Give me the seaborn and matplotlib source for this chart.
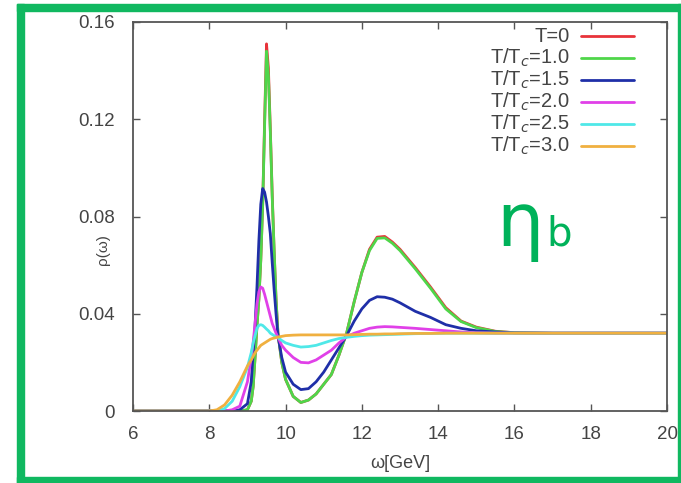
import matplotlib
matplotlib.use("Agg")
import matplotlib.pyplot as plt
from matplotlib.patches import Rectangle
import seaborn as sns
import pandas as pd

# ---------------- data ----------------
omega = [6.0, 7.0, 8.0, 8.2, 8.4, 8.6, 8.8, 9.0, 9.1, 9.15, 9.2, 9.25, 9.3, 9.35,
         9.4, 9.45, 9.5, 9.55, 9.6, 9.65, 9.7, 9.75, 9.8, 9.9, 10.0, 10.2, 10.4,
         10.6, 10.8, 11.0, 11.2, 11.4, 11.6, 11.8, 12.0, 12.2, 12.4, 12.6, 12.8,
         13.0, 13.4, 13.8, 14.2, 14.6, 15.0, 15.5, 16.0, 17.0, 18.0, 19.0, 20.0]

rho_T0 = [0, 0, 0, 0, 0, 0, 0, 0.0005, 0.004, 0.010, 0.022, 0.035, 0.046, 0.062,
          0.085, 0.119, 0.151, 0.141, 0.116, 0.089, 0.066, 0.046, 0.032, 0.020,
          0.013, 0.006, 0.0035, 0.0045, 0.007, 0.011, 0.015, 0.023, 0.032, 0.045,
          0.057, 0.0665, 0.0715, 0.0718, 0.0695, 0.0665, 0.059, 0.051, 0.0425,
          0.037, 0.0345, 0.0328, 0.0322, 0.032, 0.032, 0.032, 0.032]

rho_T10 = [0, 0, 0, 0, 0, 0, 0, 0.0005, 0.004, 0.010, 0.022, 0.035, 0.046, 0.062,
           0.085, 0.117, 0.148, 0.138, 0.115, 0.088, 0.066, 0.046, 0.032, 0.020,
           0.013, 0.006, 0.0035, 0.0045, 0.007, 0.011, 0.015, 0.023, 0.032, 0.045,
           0.057, 0.066, 0.071, 0.0712, 0.069, 0.066, 0.0585, 0.0505, 0.042,
           0.0368, 0.0343, 0.0327, 0.0322, 0.032, 0.032, 0.032, 0.032]

rho_T15 = [0, 0, 0, 0, 0, 0, 0.0005, 0.003, 0.012, 0.024, 0.035, 0.051, 0.070, 0.085,
           0.0915, 0.090, 0.086, 0.080, 0.073, 0.061, 0.050, 0.040, 0.031, 0.022,
           0.016, 0.011, 0.0088, 0.0092, 0.012, 0.016, 0.021, 0.026, 0.031, 0.037,
           0.042, 0.0455, 0.047, 0.0468, 0.046, 0.0445, 0.041, 0.0385, 0.0355,
           0.034, 0.033, 0.0325, 0.0321, 0.032, 0.032, 0.032, 0.032]

rho_T20 = [0, 0, 0, 0, 0, 0.0005, 0.002, 0.012, 0.022, 0.028, 0.036, 0.044, 0.049,
           0.051, 0.0505, 0.048, 0.045, 0.042, 0.039, 0.036, 0.034, 0.032, 0.0303,
           0.027, 0.025, 0.022, 0.020, 0.0198, 0.021, 0.023, 0.025, 0.028, 0.0305,
           0.032, 0.033, 0.034, 0.0345, 0.0347, 0.0346, 0.0344, 0.034, 0.0335,
           0.033, 0.0325, 0.0322, 0.032, 0.032, 0.032, 0.032, 0.032, 0.032]

rho_T25 = [0, 0, 0, 0, 0.001, 0.004, 0.010, 0.018, 0.024, 0.028, 0.031, 0.034,
           0.0352, 0.0355, 0.0352, 0.0345, 0.0337, 0.033, 0.032, 0.0315, 0.031,
           0.0305, 0.0302, 0.029, 0.028, 0.027, 0.0263, 0.0265, 0.027, 0.028,
           0.029, 0.0298, 0.0303, 0.0307, 0.031, 0.0312, 0.0313, 0.0314, 0.0315,
           0.0316, 0.0318, 0.0319, 0.032, 0.032, 0.032, 0.032, 0.032, 0.032,
           0.032, 0.032, 0.032]

rho_T30 = [0, 0, 0, 0.0005, 0.0025, 0.0065, 0.012, 0.0185, 0.021, 0.0225, 0.024,
           0.025, 0.026, 0.027, 0.0275, 0.028, 0.0285, 0.029, 0.0295, 0.0298,
           0.030, 0.0302, 0.0304, 0.0307, 0.031, 0.0312, 0.0313, 0.0313, 0.0313,
           0.0313, 0.0313, 0.0313, 0.0313, 0.0314, 0.0315, 0.0316, 0.0316, 0.0317,
           0.0317, 0.0318, 0.0319, 0.0319, 0.032, 0.032, 0.032, 0.032, 0.032,
           0.032, 0.032, 0.032, 0.032]

series_labels = ["T=0", "T/T$_c$=1.0", "T/T$_c$=1.5", "T/T$_c$=2.0",
                 "T/T$_c$=2.5", "T/T$_c$=3.0"]
series_values = [rho_T0, rho_T10, rho_T15, rho_T20, rho_T25, rho_T30]
series_colors = ["#e8333a", "#4fd64a", "#1f2fa8", "#e040e8", "#4fe8e8", "#f0b040"]

x_ticks = [6, 8, 10, 12, 14, 16, 18, 20]
y_ticks = [0, 0.04, 0.08, 0.12, 0.16]
y_tick_labels = ["0", "0.04", "0.08", "0.12", "0.16"]

# ---------------- figure ----------------
sns.set_theme(style="white")
plt.rcParams["font.family"] = ["Liberation Sans", "DejaVu Sans"]

W, H = 681, 483
fig = plt.figure(figsize=(W / 100, H / 100), dpi=100)
ax = fig.add_axes([133 / W, 1 - 411 / H, (667 - 133) / W, (411 - 22) / H])

frames = []
for lab, vals in zip(series_labels, series_values):
    frames.append(pd.DataFrame({"omega": omega, "rho": vals, "series": lab}))
df = pd.concat(frames, ignore_index=True)

sns.lineplot(data=df, x="omega", y="rho", hue="series", hue_order=series_labels,
             palette=series_colors, linewidth=2.0, ax=ax, legend=False, sort=False)

ax.set_xlim(6, 20)
ax.set_ylim(0, 0.16)
ax.set_xticks(x_ticks)
ax.set_xticklabels([str(t) for t in x_ticks])
ax.set_yticks(y_ticks)
ax.set_yticklabels(y_tick_labels)
ax.tick_params(axis="both", direction="in", length=5, width=1.0, color="#555555",
               labelsize=13.5, labelcolor="#444444", top=True, right=True,
               bottom=True, left=True)
ax.tick_params(axis="y", pad=13)
ax.tick_params(axis="x", pad=11)
for sp in ax.spines.values():
    sp.set_color("#555555")
    sp.set_linewidth(1.3)

ax.set_xlabel("ω[GeV]", fontsize=13, color="#444444", va="center")
ax.xaxis.set_label_coords(0.5, -(463 - 411) / (411 - 22))
ax.set_ylabel("ρ(ω)", fontsize=11, color="#444444", va="center")
ax.yaxis.set_label_coords(-(133 - 103) / (667 - 133), (411 - 250) / (411 - 22))

# legend: sample lines from the legend, labels right-aligned to their left
handles = ax.get_lines()[:len(series_labels)]
leg = ax.legend(handles, [" "] * len(series_labels), loc="upper right",
                frameon=False, fontsize=11.5, handlelength=3.3, handletextpad=0.0,
                labelspacing=0.43, borderaxespad=0.0, borderpad=0.0,
                bbox_to_anchor=((638 - 133) / (667 - 133), 1 - 8 / (411 - 22)))
fig.canvas.draw()
renderer = fig.canvas.get_renderer()
inv = fig.transFigure.inverted()
for lh, lab in zip(leg.get_lines(), series_labels):
    bb = lh.get_window_extent(renderer)
    xf, yf = inv.transform((bb.x0 - 11, (bb.y0 + bb.y1) / 2))
    fig.text(xf, yf, lab, ha="right", va="center", fontsize=14.5, color="#444444")

# eta_b annotation
green = "#00b25a"
fig.text(496 / W, 1 - 246 / H, "η", fontsize=54, color=green, family="DejaVu Sans")
fig.text(546 / W, 1 - 246 / H, "b", fontsize=29, color=green, family="DejaVu Sans")

# green border frame
for (x0, y0, w, h) in [(17, 4, 7, 479), (17, 4, 664, 7), (678, 4, 3, 479), (17, 477, 664, 6)]:
    fig.patches.append(Rectangle((x0 / W, 1 - (y0 + h) / H), w / W, h / H,
                                 transform=fig.transFigure, color="#10b860", zorder=10))

fig.savefig("out.png", dpi=100)
